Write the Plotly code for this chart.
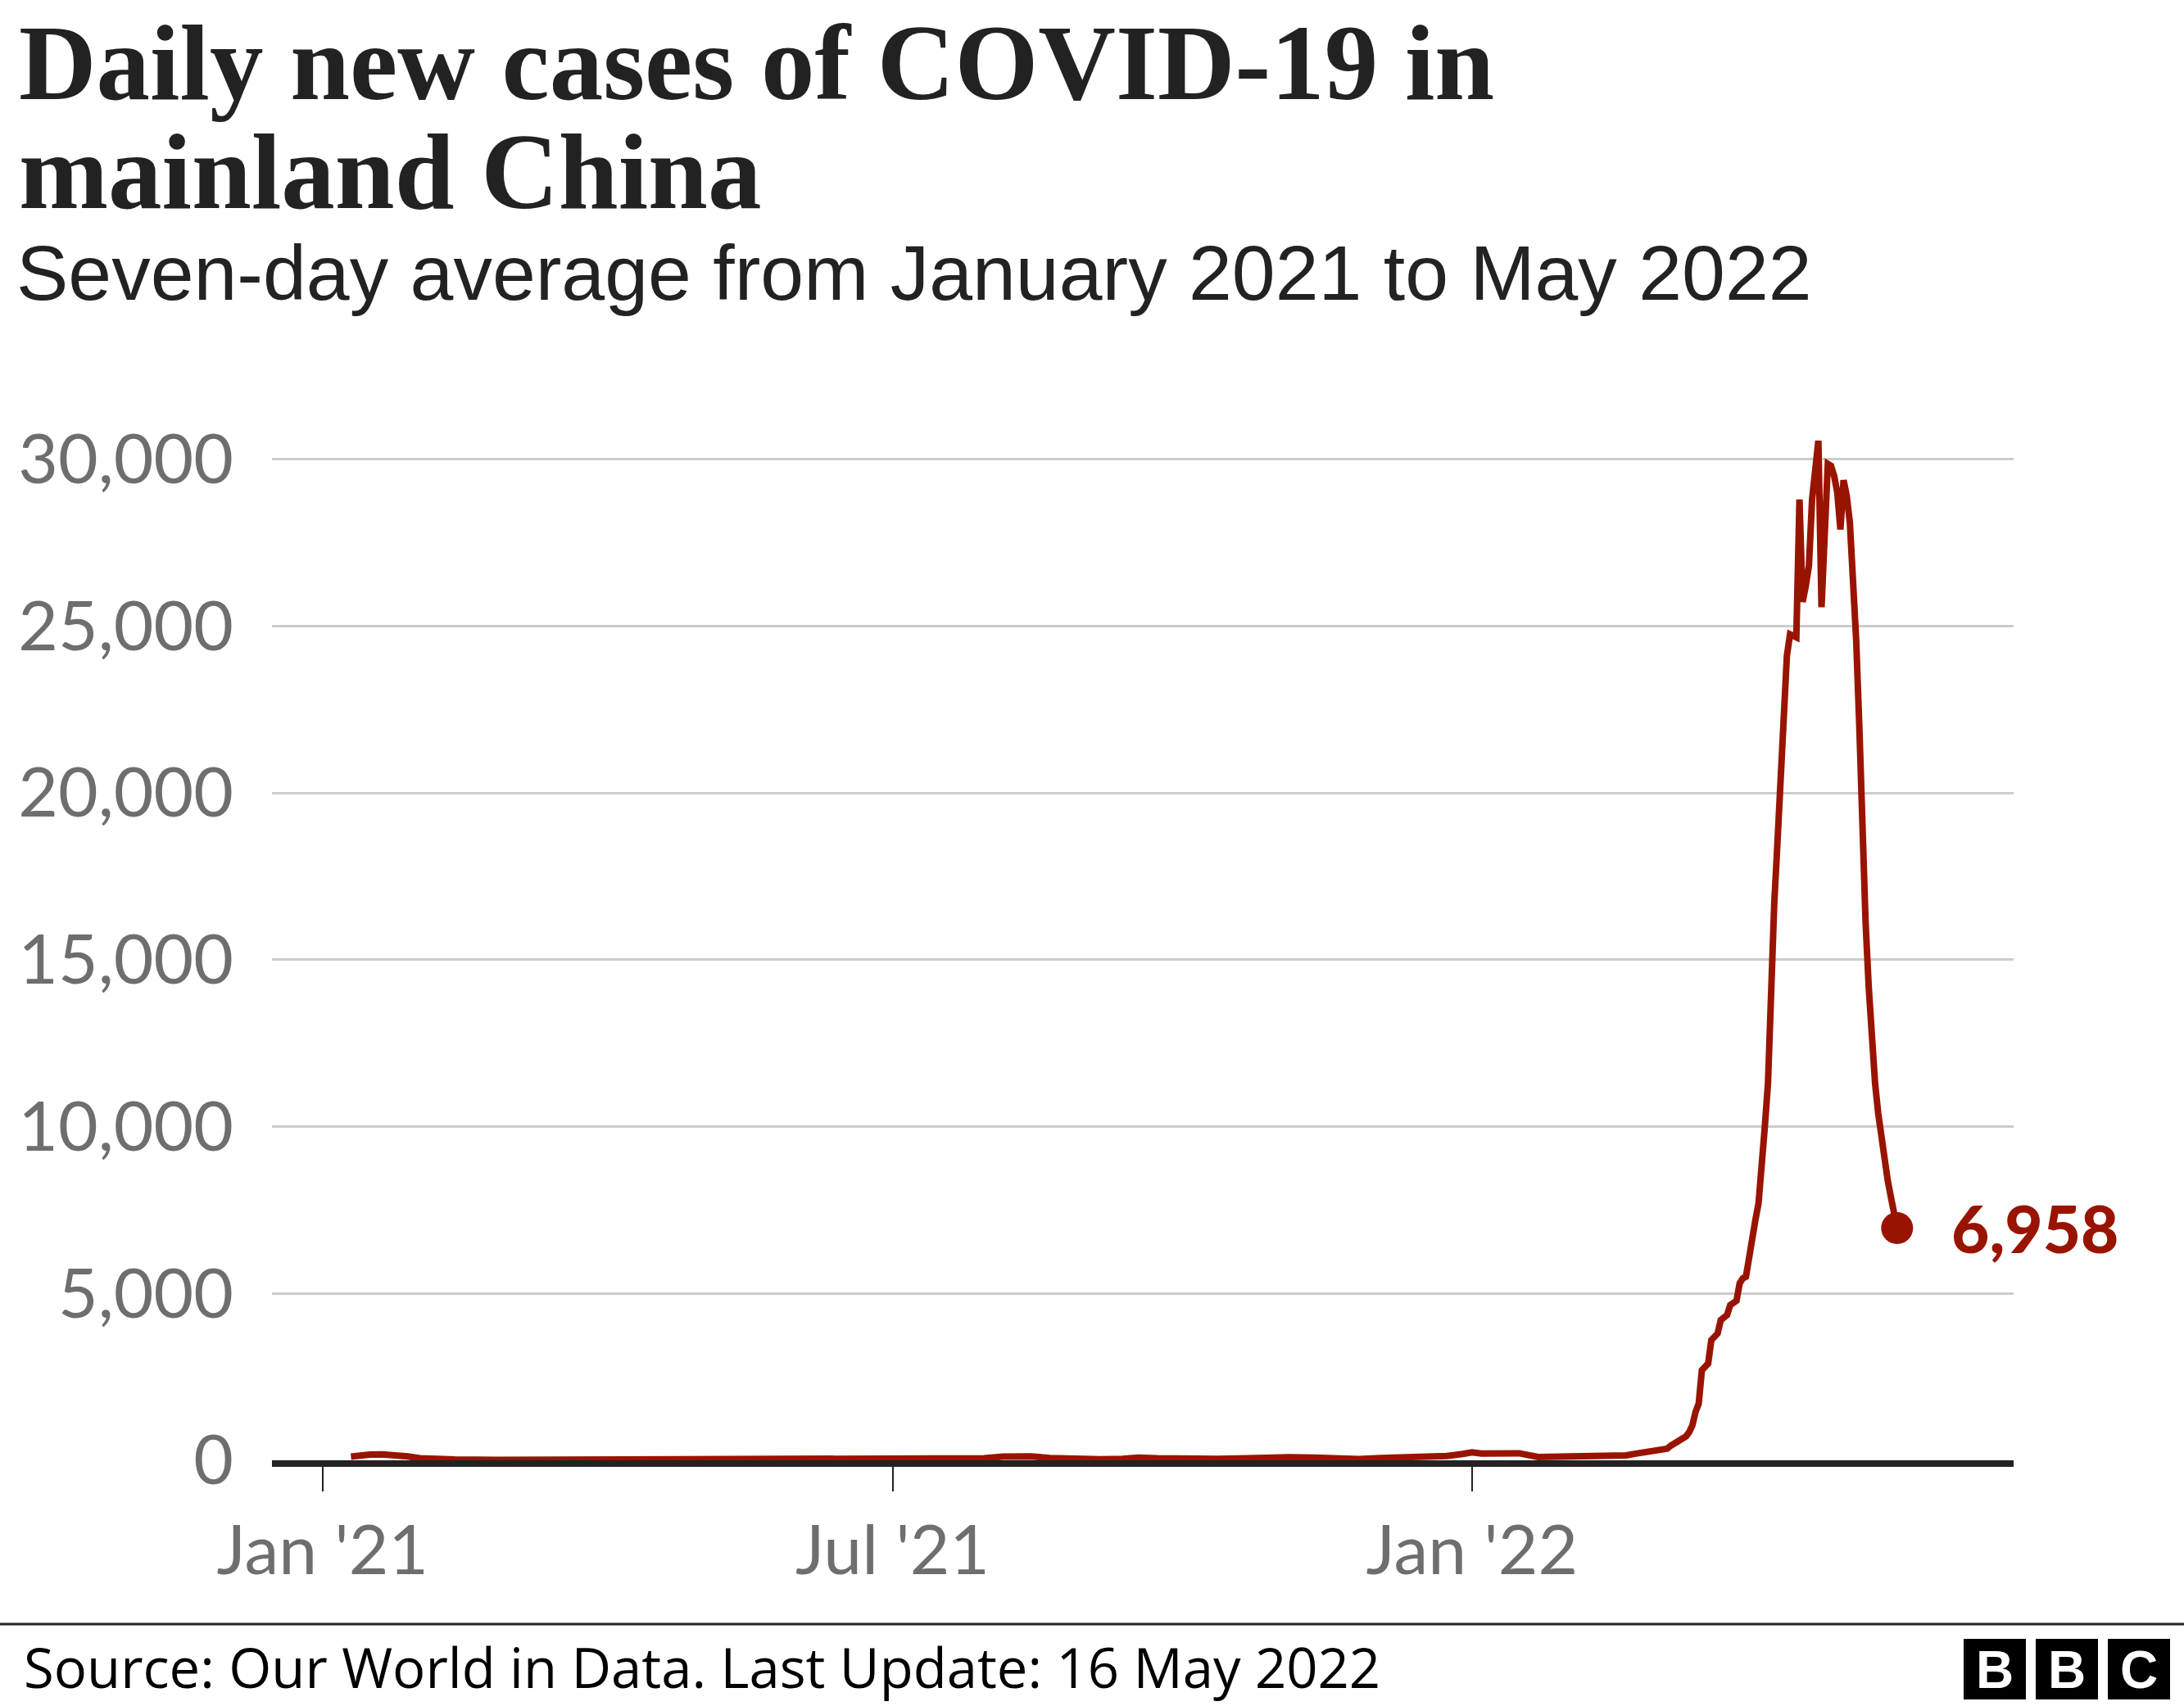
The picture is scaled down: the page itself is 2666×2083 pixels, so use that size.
import plotly.graph_objects as go

# ---------------- data ----------------
dates = [
    "2021-01-10", "2021-01-13", "2021-01-16", "2021-01-20", "2021-01-24", "2021-01-28",
    "2021-02-01", "2021-02-05", "2021-02-12", "2021-02-25", "2021-03-15", "2021-03-28",
    "2021-04-04", "2021-04-10", "2021-04-25", "2021-05-10", "2021-05-25", "2021-06-08",
    "2021-06-20", "2021-07-05", "2021-07-20", "2021-07-30", "2021-08-05", "2021-08-09",
    "2021-08-14", "2021-08-20", "2021-08-28", "2021-09-05", "2021-09-12", "2021-09-17",
    "2021-09-23", "2021-10-01", "2021-10-12", "2021-10-22", "2021-10-28", "2021-11-04",
    "2021-11-12", "2021-11-18", "2021-11-26", "2021-12-03", "2021-12-10", "2021-12-18",
    "2021-12-24", "2021-12-29", "2022-01-01", "2022-01-04", "2022-01-10", "2022-01-16",
    "2022-01-22", "2022-01-30", "2022-02-08", "2022-02-14", "2022-02-19", "2022-02-22",
    "2022-02-25", "2022-03-01", "2022-03-04",
    "2022-03-05", "2022-03-06", "2022-03-07", "2022-03-08", "2022-03-09", "2022-03-10",
    "2022-03-11", "2022-03-12", "2022-03-13", "2022-03-14", "2022-03-15", "2022-03-16",
    "2022-03-17", "2022-03-18", "2022-03-19", "2022-03-20", "2022-03-21", "2022-03-22",
    "2022-03-23", "2022-03-24", "2022-03-25", "2022-03-26", "2022-03-27", "2022-03-28",
    "2022-03-29", "2022-03-30", "2022-03-31", "2022-04-01", "2022-04-02", "2022-04-03",
    "2022-04-04", "2022-04-05", "2022-04-06", "2022-04-07", "2022-04-08", "2022-04-09",
    "2022-04-10", "2022-04-11", "2022-04-12", "2022-04-13", "2022-04-14", "2022-04-15",
    "2022-04-16", "2022-04-17", "2022-04-18", "2022-04-19", "2022-04-20", "2022-04-21",
    "2022-04-22", "2022-04-23", "2022-04-24", "2022-04-25", "2022-04-26", "2022-04-27",
    "2022-04-28", "2022-04-29", "2022-04-30", "2022-05-01", "2022-05-02", "2022-05-03",
    "2022-05-04", "2022-05-05", "2022-05-06", "2022-05-07", "2022-05-08", "2022-05-09",
    "2022-05-10", "2022-05-11", "2022-05-12", "2022-05-13", "2022-05-14", "2022-05-15",
    "2022-05-16",
]

cases = [
    110, 145, 170, 175, 165, 115,
    60, 35, 22, 15, 15, 18,
    35, 25, 18, 20, 25, 28,
    28, 30, 35, 60, 110, 130,
    115, 70, 40, 30, 45, 80,
    60, 40, 40, 60, 90, 95,
    80, 45, 35, 70, 90, 95,
    130, 190, 238, 205, 200, 210,
    100, 110, 115, 125, 150, 200,
    245, 290, 350,
    430, 480, 530, 580, 640, 720,
    850, 1050, 1450, 1700, 2700, 2790,
    2900, 3600, 3720, 3800, 4200, 4300,
    4350, 4650, 4720, 4780, 5300, 5450,
    5500, 6150, 6600, 7200, 7700, 8700,
    10000, 11300, 14800, 16700, 18500, 20300,
    22100, 24100, 24750, 24700, 24660, 28790,
    25720, 26200, 26800, 28790, 29700, 30550,
    25560, 27700, 29855, 29800, 29500, 29000,
    27890, 29365, 28900, 28100, 26600, 24600,
    22000, 18700, 16100, 14165, 12300, 11300,
    10400, 9600, 9000, 8400, 7900, 7400,
    6958,
]

y_tick_values = [0, 5000, 10000, 15000, 20000, 25000, 30000]
y_tick_labels = ["0", "5,000", "10,000", "15,000", "20,000", "25,000", "30,000"]
x_tick_values = ["2021-01-01", "2021-07-01", "2022-01-01"]
x_tick_labels = ["Jan '21", "Jul '21", "Jan '22"]

title_lines = ["Daily new cases of COVID-19 in", "mainland China"]
subtitle = "Seven-day average from January 2021 to May 2022"
source = "Source: Our World in Data. Last Update: 16 May 2022"
last_label = "6,958"

# ---------------- styling ----------------
RED = "#991400"
DARK = "#222222"
GREY = "#6E6E6E"
SANS = "Lato"
SANS2 = "Open Sans"
SANS3 = "Liberation Sans"
SERIF = "Liberation Serif"

W, H = 2666, 2083
L, R, T, B = 332, 208, 479, 300
PW = W - L - R
PH = H - T - B


def px(xp):
    return (xp - L) / PW


def py(yp):
    return (H - B - yp) / PH


fig = go.Figure()
fig.add_trace(go.Scatter(
    x=dates, y=cases, mode="lines",
    line=dict(color=RED, width=8), hoverinfo="skip", showlegend=False,
))
fig.add_trace(go.Scatter(
    x=[dates[-1]], y=[cases[-1]], mode="markers",
    marker=dict(color=RED, size=39), hoverinfo="skip", showlegend=False,
    cliponaxis=False,
))

# two-line title in one text block: base size sets the line pitch (1.3 em),
# the span sets the glyph size
TITLE_PITCH = 133
title_text = "<br>".join(
    '<span style="font-size:131px"><b>' + t + "</b></span>" for t in title_lines
)

annotations = [
    dict(x=dates[-1], y=cases[-1], xref="x", yref="y", text=last_label,
         showarrow=False, xanchor="left", yanchor="middle", xshift=64,
         font=dict(family=SANS, size=80, color=RED, weight=900)),
    dict(x=px(21), y=py(2), xref="paper", yref="paper", text=title_text,
         showarrow=False, xanchor="left", yanchor="top", align="left",
         font=dict(family=SERIF, size=TITLE_PITCH / 1.3, color=DARK)),
    dict(x=px(18), y=py(333), xref="paper", yref="paper", text=subtitle,
         showarrow=False, xanchor="left", yanchor="middle",
         font=dict(family=SANS3, size=95, color=DARK)),
    dict(x=px(27), y=py(2035), xref="paper", yref="paper", text=source,
         showarrow=False, xanchor="left", yanchor="middle",
         font=dict(family=SANS2, size=67, color="#000000")),
]

shapes = [
    dict(type="line", xref="paper", yref="paper", x0=px(0), x1=px(W), y0=py(1983), y1=py(1983),
         line=dict(color=DARK, width=3)),
]

# BBC logo blocks
logo_left = [2397, 2485, 2573]
logo_letters = ["B", "B", "C"]
for x0, letter in zip(logo_left, logo_letters):
    shapes.append(dict(type="rect", xref="paper", yref="paper",
                       x0=px(x0), x1=px(x0 + 76), y0=py(2075), y1=py(2001),
                       fillcolor="#000000", line=dict(width=0)))
    annotations.append(dict(x=px(x0 + 38), y=py(2039), xref="paper", yref="paper",
                            text="<b>" + letter + "</b>", showarrow=False,
                            xanchor="center", yanchor="middle",
                            font=dict(family="Liberation Sans", size=64, color="#ffffff")))

fig.update_layout(
    width=W, height=H,
    margin=dict(l=L, r=R, t=T, b=B, pad=0),
    paper_bgcolor="#ffffff", plot_bgcolor="#ffffff",
    showlegend=False,
    annotations=annotations,
    shapes=shapes,
    xaxis=dict(
        type="date",
        range=["2020-12-15 22:00", "2022-06-22 00:00"],
        tickvals=x_tick_values, ticktext=x_tick_labels,
        ticks="outside", ticklen=30, tickwidth=2, tickcolor=DARK,
        showgrid=False, zeroline=False,
        showline=True, linecolor=DARK, linewidth=8,
        tickfont=dict(family=SANS, size=84, color=GREY),
        ticklabelstandoff=0,
        fixedrange=True,
    ),
    yaxis=dict(
        range=[0, 32000],
        tickvals=y_tick_values, ticktext=y_tick_labels,
        showgrid=True, gridcolor="#CCCCCC", gridwidth=3,
        zeroline=False, showline=False, ticks="",
        tickfont=dict(family=SANS, size=84, color=GREY),
        ticklabelstandoff=46,
        fixedrange=True,
    ),
)

fig.write_html(
    "out.html",
    config={"displayModeBar": False},
    post_script="document.body.style.margin='0';document.body.style.overflow='hidden';",
)
